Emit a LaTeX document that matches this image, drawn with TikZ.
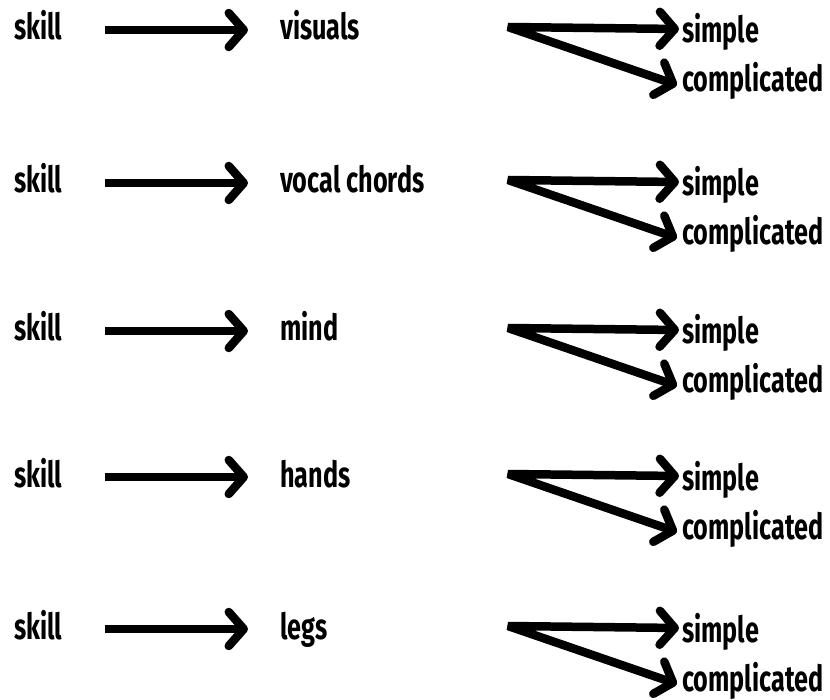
\documentclass[tikz,border=0pt]{standalone}
\usepackage{fontspec}
\setmainfont{Fira Sans}[FakeStretch=0.7]
\usetikzlibrary{arrows.meta}
\begin{document}
\begin{tikzpicture}[x=1pt,y=-1pt,
  lbl/.style={anchor=base west,inner sep=0pt,font=\fontsize{36}{40}\selectfont\bfseries},
  barb/.tip={Straight Barb[length=15pt,width=34pt,line width=8.5pt,round]},
  thickarrow/.style={line width=8.5pt,-barb,line cap=butt},
  forkarrow/.style={line width=8.5pt,barb-barb,line join=bevel}]
\useasboundingbox (0,0) rectangle (830,700);
\foreach \i/\y/\w in {1/27/visuals,2/180/vocal chords,3/328/mind,4/474/hands,5/626/legs}{
  \node[lbl] (s\i) at (14,\y+13) {skill};
  \node[lbl] (m\i) at (280,\y+13) {\w};
  \node[lbl] (p\i) at (682,\y+16) {simple};
  \node[lbl] (c\i) at (682,\y+65) {complicated};
  \coordinate (a\i) at (105,\y+3);
  \coordinate (b\i) at (248,\y+3);
  \coordinate (f\i) at (508,\y);
  \draw[thickarrow] (a\i) -- (b\i);
  \draw[forkarrow] ([xshift=-3pt,yshift=14pt]p\i.base west) -- (f\i) -- ([xshift=-5pt,yshift=7pt]c\i.base west);
}
\end{tikzpicture}
\end{document}
